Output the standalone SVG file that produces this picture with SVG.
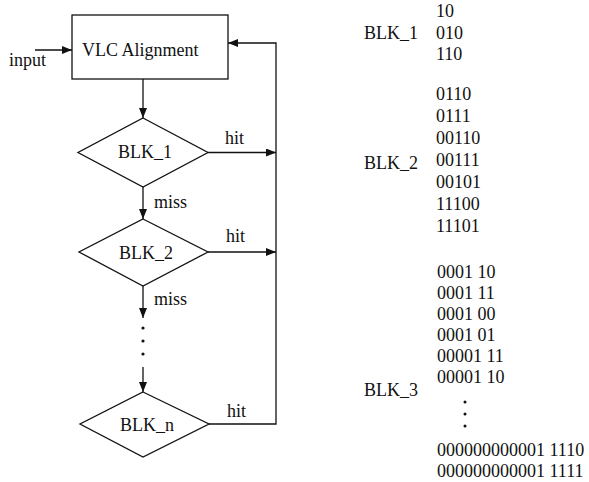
<svg xmlns="http://www.w3.org/2000/svg" width="589" height="482" viewBox="0 0 589 482">
<style>
text{font-family:"Liberation Serif","Times New Roman",serif;font-size:18px;fill:#111}
.n{fill:#fff;stroke:#111;stroke-width:1.3}
.c{fill:none;stroke:#111;stroke-width:1.3}
.m{text-anchor:middle}
</style>
<defs>
<marker id="ah" markerUnits="userSpaceOnUse" markerWidth="10" markerHeight="8" refX="10" refY="4" orient="auto">
<path d="M0,0 L10,4 L0,8 z" fill="#111"/>
</marker>
</defs>
<rect width="589" height="482" fill="#fff"/>
<g id="connectors">
<line class="c" x1="35" y1="50" x2="72" y2="50" marker-end="url(#ah)"/>
<line class="c" x1="143" y1="79" x2="143" y2="118" marker-end="url(#ah)"/>
<line class="c" x1="143" y1="187" x2="143" y2="219" marker-end="url(#ah)"/>
<line class="c" x1="143" y1="286" x2="143" y2="318" marker-end="url(#ah)"/>
<line class="c" x1="143" y1="367" x2="143" y2="392" marker-end="url(#ah)"/>
<line class="c" x1="208" y1="152.5" x2="276" y2="152.5" marker-end="url(#ah)"/>
<line class="c" x1="208" y1="252" x2="276" y2="252" marker-end="url(#ah)"/>
<path class="c" d="M209,424 H276 V43 H228" marker-end="url(#ah)"/>
<circle cx="143" cy="328" r="1.6" fill="#111"/>
<circle cx="143" cy="341" r="1.6" fill="#111"/>
<circle cx="143" cy="354" r="1.6" fill="#111"/>
<text x="9" y="66">input</text>
<text x="225" y="144">hit</text>
<text x="226" y="242">hit</text>
<text x="227" y="417">hit</text>
<text x="154" y="208">miss</text>
<text x="154" y="305">miss</text>
</g>
<g id="vlc">
<rect class="n" x="72" y="15" width="156" height="64"/>
<text x="82" y="56">VLC Alignment</text>
</g>
<g id="blk1">
<polygon class="n" points="143,118 208,152.5 143,187 78,152.5"/>
<text x="118" y="158">BLK_1</text>
</g>
<g id="blk2">
<polygon class="n" points="143,219 208,252 143,286 79,252"/>
<text x="119" y="259">BLK_2</text>
</g>
<g id="blkn">
<polygon class="n" points="143,392 209,424 143,457 80,424"/>
<text x="120" y="431">BLK_n</text>
</g>
<g id="table">
<text x="364" y="39">BLK_1</text>
<text x="436" y="17">10</text>
<text x="436" y="39">010</text>
<text x="436" y="60">110</text>
<text x="364" y="169">BLK_2</text>
<text x="436" y="100">0110</text>
<text x="436" y="122">0111</text>
<text x="436" y="144">00110</text>
<text x="436" y="166">00111</text>
<text x="436" y="188">00101</text>
<text x="436" y="210">11100</text>
<text x="436" y="232">11101</text>
<text x="364" y="396">BLK_3</text>
<text x="437" y="278">0001 10</text>
<text x="437" y="299">0001 11</text>
<text x="437" y="320">0001 00</text>
<text x="437" y="341">0001 01</text>
<text x="437" y="362">00001 11</text>
<text x="437" y="383">00001 10</text>
<circle cx="465" cy="402" r="1.5" fill="#111"/>
<circle cx="465" cy="414" r="1.5" fill="#111"/>
<circle cx="465" cy="426" r="1.5" fill="#111"/>
<text x="437" y="456">000000000001 1110</text>
<text x="437" y="477">000000000001 1111</text>
</g>
</svg>
